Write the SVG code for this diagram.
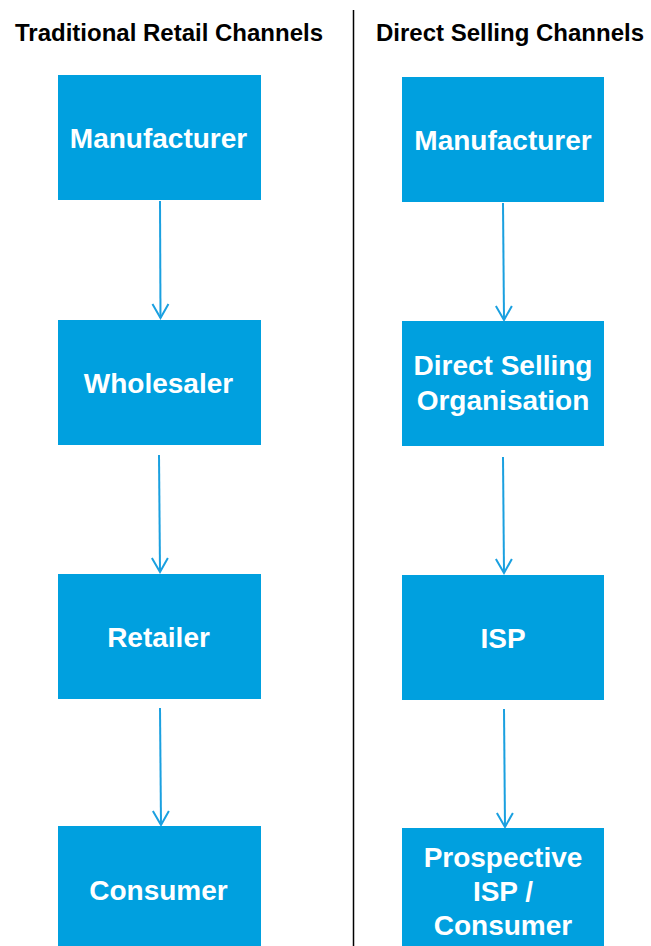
<svg xmlns="http://www.w3.org/2000/svg" width="651" height="946" viewBox="0 0 651 946">
<defs>
<marker id="arr" viewBox="0 0 20 20" refX="18" refY="10" markerWidth="20" markerHeight="20" markerUnits="userSpaceOnUse" orient="auto">
<path d="M4 2 L18 10 L4 18" fill="none" stroke="#1AA0E0" stroke-width="2"/>
</marker>
<style>
.box{fill:#00A0DF;}
.lbl{font-family:"Liberation Sans",Arial,sans-serif;font-weight:bold;font-size:28px;fill:#FFFFFF;text-anchor:middle;}
.hdr{font-family:"Liberation Sans",Arial,sans-serif;font-weight:bold;font-size:24px;fill:#000000;text-anchor:middle;}
.conn{stroke:#1AA0E0;stroke-width:2;fill:none;}
</style>
</defs>
<rect width="651" height="946" fill="#FFFFFF"/>
<g id="headers">
<text class="hdr" x="169" y="41">Traditional Retail Channels</text>
<text class="hdr" x="510" y="41">Direct Selling Channels</text>
<line x1="353.5" y1="10" x2="353.5" y2="946" stroke="#000000" stroke-width="1.5"/>
</g>
<g id="trad-manufacturer"><rect class="box" x="58" y="75" width="203" height="125"/><text class="lbl" x="158.5" y="148">Manufacturer</text></g>
<g id="trad-wholesaler"><rect class="box" x="58" y="320" width="203" height="125"/><text class="lbl" x="158.5" y="393">Wholesaler</text></g>
<g id="trad-retailer"><rect class="box" x="58" y="574" width="203" height="125"/><text class="lbl" x="158.5" y="647">Retailer</text></g>
<g id="trad-consumer"><rect class="box" x="58" y="826" width="203" height="125"/><text class="lbl" x="158.5" y="900">Consumer</text></g>
<g id="ds-manufacturer"><rect class="box" x="402" y="77" width="202" height="125"/><text class="lbl" x="503" y="150">Manufacturer</text></g>
<g id="ds-organisation"><rect class="box" x="402" y="321" width="202" height="125"/><text class="lbl" x="503" y="375">Direct Selling</text><text class="lbl" x="503" y="410">Organisation</text></g>
<g id="ds-isp"><rect class="box" x="402" y="575" width="202" height="125"/><text class="lbl" x="503" y="648">ISP</text></g>
<g id="ds-prospective"><rect class="box" x="402" y="828" width="202" height="125"/><text class="lbl" x="503" y="867">Prospective</text><text class="lbl" x="503" y="901">ISP /</text><text class="lbl" x="503" y="935">Consumer</text></g>
<g id="connectors">
<line class="conn" x1="160" y1="201" x2="160.5" y2="318" marker-end="url(#arr)"/>
<line class="conn" x1="159" y1="455" x2="160" y2="572" marker-end="url(#arr)"/>
<line class="conn" x1="160" y1="708" x2="161" y2="825" marker-end="url(#arr)"/>
<line class="conn" x1="503" y1="203" x2="504" y2="320" marker-end="url(#arr)"/>
<line class="conn" x1="503" y1="457" x2="504" y2="573" marker-end="url(#arr)"/>
<line class="conn" x1="504" y1="709" x2="505" y2="827" marker-end="url(#arr)"/>
</g>
</svg>
